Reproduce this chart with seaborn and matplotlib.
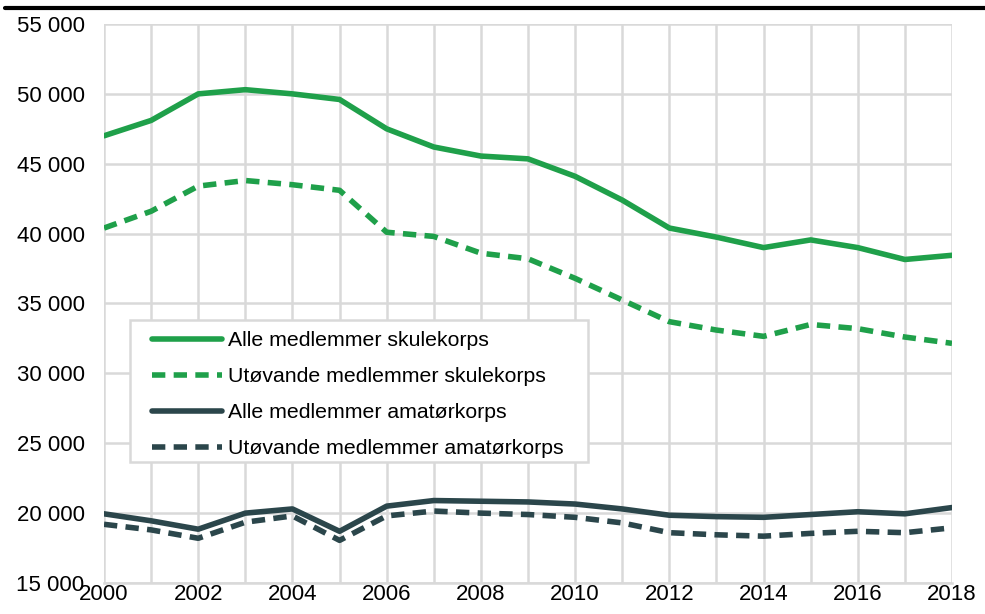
import numpy as np
import pandas as pd
import matplotlib
matplotlib.use("Agg")
import matplotlib.pyplot as plt
import matplotlib.ticker as mticker
from matplotlib.lines import Line2D
from matplotlib.patches import Rectangle
import seaborn as sns

# data
years = list(range(2000, 2019))
alle_skule = [47000, 48100, 50000, 50300, 50000, 49600, 47500, 46200, 45550, 45350,
              44100, 42400, 40400, 39750, 39000, 39550, 39000, 38150, 38450]
utov_skule = [40400, 41600, 43400, 43800, 43500, 43100, 40100, 39800, 38600, 38200,
              36800, 35250, 33700, 33100, 32650, 33500, 33200, 32600, 32150]
alle_amator = [19950, 19450, 18850, 20000, 20300, 18700, 20500, 20900, 20850, 20800,
               20650, 20300, 19850, 19750, 19700, 19900, 20100, 19950, 20400]
utov_amator = [19200, 18800, 18200, 19350, 19800, 18050, 19800, 20150, 20000, 19900,
               19700, 19300, 18600, 18450, 18350, 18550, 18700, 18600, 18950]

labels = ["Alle medlemmer skulekorps", "Utøvande medlemmer skulekorps",
          "Alle medlemmer amatørkorps", "Utøvande medlemmer amatørkorps"]

green = "#1fa04a"
dark = "#2b464b"
colors = [green, green, dark, dark]
dashes = ["", (2.4, 1.5), "", (2.4, 1.5)]
lw = 4.0

df = pd.DataFrame({
    "year": years * 4,
    "value": alle_skule + utov_skule + alle_amator + utov_amator,
    "series": np.repeat(labels, len(years)),
})

sns.set_style("white")
plt.rcParams["font.family"] = ["Liberation Sans", "DejaVu Sans"]

W, H = 985, 614
L, R, T, B = 104, 952, 24, 583
fig = plt.figure(figsize=(W / 100, H / 100), dpi=100)
ax = fig.add_axes([L / W, 1 - B / H, (R - L) / W, (B - T) / H])

sns.lineplot(data=df, x="year", y="value", hue="series", style="series",
             hue_order=labels, style_order=labels,
             palette=dict(zip(labels, colors)), dashes=dict(zip(labels, dashes)),
             linewidth=lw, ax=ax, legend=False)

ax.set_xlim(2000, 2018)
ax.set_ylim(15000, 55000)
ax.xaxis.set_major_locator(mticker.MultipleLocator(2))
ax.xaxis.set_minor_locator(mticker.MultipleLocator(1))
ax.yaxis.set_major_locator(mticker.MultipleLocator(5000))
ax.yaxis.set_major_formatter(mticker.FuncFormatter(lambda v, p: f"{int(v):,}".replace(",", " ")))
ax.grid(True, which="both", axis="x", color="#d9d9d9", linewidth=1.8)
ax.grid(True, which="major", axis="y", color="#d9d9d9", linewidth=1.8)
ax.set_axisbelow(True)
for s in ax.spines.values():
    s.set_visible(False)
ax.spines["bottom"].set_visible(True)
ax.spines["bottom"].set_color("#d9d9d9")
ax.spines["bottom"].set_linewidth(1.8)
ax.tick_params(axis="both", which="both", length=0, labelsize=16, colors="black")
ax.tick_params(axis="y", pad=14)
ax.tick_params(axis="x", pad=1)
ax.set_xlabel("")
ax.set_ylabel("")

# legend box (drawn separately to get the wide side padding of the original)
def axfrac(px, py):
    return (px - L) / (R - L), (B - py) / (B - T)

x0, y0 = axfrac(130, 462)
x1, y1 = axfrac(588, 320)
ax.add_patch(Rectangle((x0, y0), x1 - x0, y1 - y0, transform=ax.transAxes,
                       facecolor="white", edgecolor="#d9d9d9", linewidth=1.8, zorder=4))

handles = [Line2D([], [], color=c, linewidth=lw,
                  linestyle="-" if d == "" else (0, d)) for c, d in zip(colors, dashes)]
lx, ly = axfrac(152, 331)
leg = ax.legend(handles, labels, loc="upper left", bbox_to_anchor=(lx, ly),
                borderaxespad=0, fontsize=15.3, handlelength=3.3, frameon=False,
                borderpad=0, labelspacing=0.8, handletextpad=0.3)
leg.set_zorder(5)
for t in leg.get_texts():
    t.set_color("black")

# heavy rule under the (cropped) figure title
fig.add_artist(Line2D([5 / W, 1], [1 - 8 / H, 1 - 8 / H], color="black", linewidth=3))

fig.savefig("out.png", dpi=100)
